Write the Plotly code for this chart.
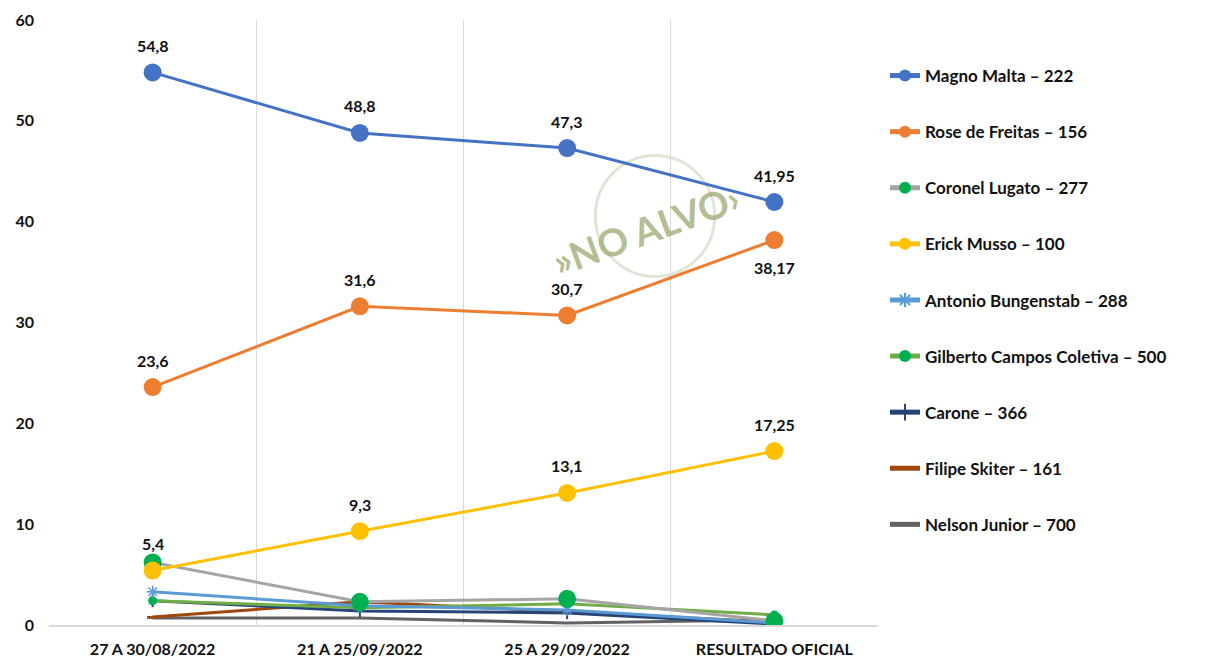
import plotly.graph_objects as go

categories = ["27 A 30/08/2022", "21 A 25/09/2022", "25 A 29/09/2022", "RESULTADO OFICIAL"]

magno = [54.8, 48.8, 47.3, 41.95]
rose = [23.6, 31.6, 30.7, 38.17]
lugato = [6.2, 2.3, 2.6, 0.4]
erick = [5.4, 9.3, 13.1, 17.25]
antonio = [3.3, 1.9, 1.5, 0.2]
gilberto = [2.4, 1.7, 2.1, 1.0]
carone = [2.4, 1.4, 1.2, 0.1]
filipe = [0.8, 2.3, 1.3, 0.3]
nelson = [0.7, 0.7, 0.2, 0.5]

names = ["Magno Malta – 222", "Rose de Freitas – 156", "Coronel Lugato – 277",
         "Erick Musso – 100", "Antonio Bungenstab – 288", "Gilberto Campos Coletiva – 500",
         "Carone – 366", "Filipe Skiter – 161", "Nelson Junior – 700"]

def lbl(v):
    return ("%g" % v).replace(".", ",")

LBL_FONT = dict(family="Lato", size=16, color="#111111", weight="bold")

fig = go.Figure()

specs = [
    (nelson, names[8], "#636363", dict(symbol="line-ew", size=8, color="#636363", line=dict(width=2, color="#636363"))),
    (filipe, names[7], "#9E480E", dict(symbol="line-ew", size=8, color="#9E480E", line=dict(width=2, color="#9E480E"))),
    (carone, names[6], "#264478", dict(symbol="line-ns", size=9, color="#264478", line=dict(width=2, color="#264478"))),
    (gilberto, names[5], "#70AD47", dict(symbol="circle", size=9, color="#00B050")),
    (antonio, names[4], "#5B9BD5", dict(symbol="asterisk", size=10, color="#5B9BD5", line=dict(width=1.5, color="#5B9BD5"))),
    (lugato, names[2], "#A5A5A5", dict(symbol="circle", size=18, color="#00B050")),
    (erick, names[3], "#FFC000", dict(symbol="circle", size=18, color="#FFC000")),
    (rose, names[1], "#ED7D31", dict(symbol="circle", size=18, color="#ED7D31")),
    (magno, names[0], "#4472C4", dict(symbol="circle", size=18, color="#4472C4")),
]
rank = {n: i for i, n in enumerate(names)}
for vals, name, col, mk in specs:
    fig.add_trace(go.Scatter(x=categories, y=vals, name=name, mode="lines+markers",
                             line=dict(color=col, width=3), marker=mk,
                             legendrank=rank[name], legendgroup=name))

# data labels
for vals, below_last in [(magno, False), (rose, True), (erick, False)]:
    for i, (c, v) in enumerate(zip(categories, vals)):
        below = below_last and i == len(vals) - 1
        fig.add_annotation(x=c, y=v, text=lbl(v), showarrow=False, font=LBL_FONT,
                           yshift=-27 if below else 27)

# watermark
fig.add_shape(type="circle", xref="paper", yref="paper",
              x0=0.731 - 0.072, x1=0.731 + 0.072, y0=0.676 - 0.1, y1=0.676 + 0.1,
              line=dict(color="rgba(170,180,135,0.35)", width=3), layer="below")
fig.add_annotation(xref="paper", yref="paper", x=0.72, y=0.655, xanchor="center", yanchor="middle",
                   text="»NO ALVO›", showarrow=False, textangle=-20,
                   font=dict(family="Lato", size=38, color="rgba(160,172,120,0.8)", weight="bold"))

fig.update_layout(
    width=1218, height=660,
    margin=dict(l=41, r=348, t=12, b=43, autoexpand=False),
    paper_bgcolor="white", plot_bgcolor="white",
    showlegend=True,
    legend=dict(x=877/1218, xref="container", xanchor="left", y=1 - 50/660, yref="container", yanchor="top",
                font=dict(family="Lato", size=17, color="#111111", weight="bold"),
                tracegroupgap=31, itemwidth=30, itemsizing="constant", bgcolor="rgba(0,0,0,0)",
                maxheight=640),
    xaxis=dict(type="category", tickson="boundaries", showgrid=True, gridcolor="#D9D9D9", gridwidth=1,
               ticks="", showline=True, linecolor="#D9D9D9", linewidth=1.5,
               tickfont=dict(family="Lato", size=16, color="#111111", weight="bold"),
               ticklabelstandoff=9, range=[-0.5, 3.5], zeroline=False),
    yaxis=dict(range=[0, 60], dtick=10, showgrid=False, zeroline=False, showline=False, ticks="",
               tickfont=dict(family="Lato", size=16, color="#111111", weight="bold"),
               ticklabelstandoff=14),
)

fig.write_html("out.html")
